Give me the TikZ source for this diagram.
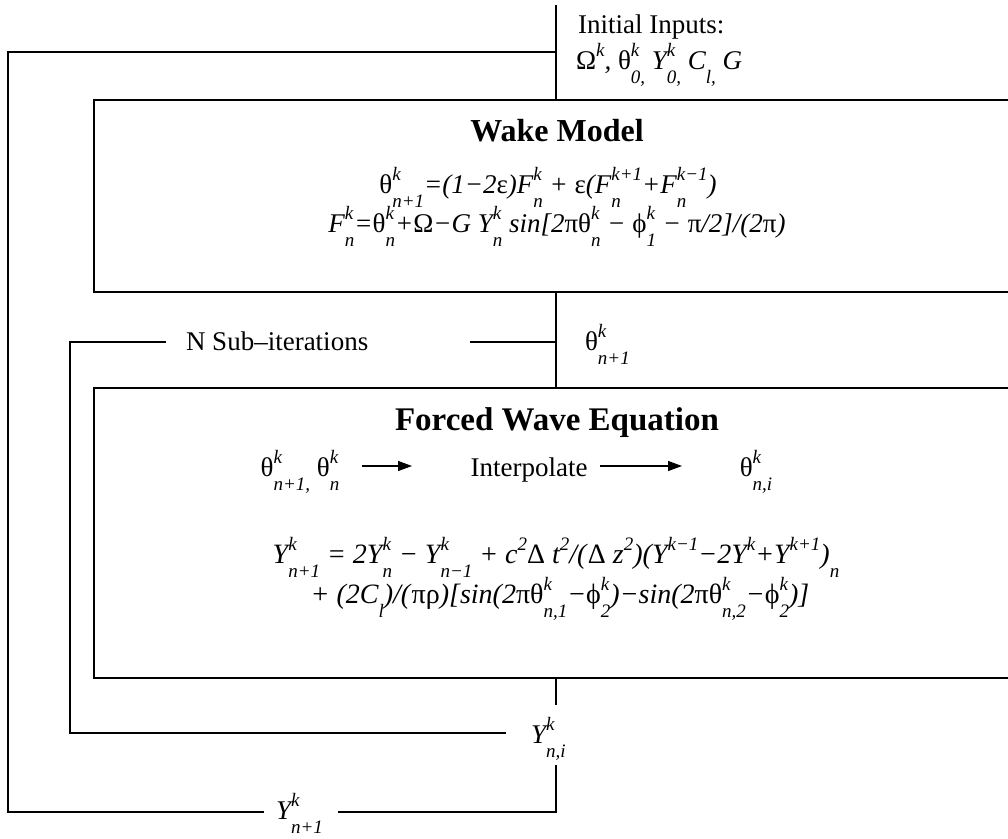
\documentclass[tikz,border=0pt]{standalone}
\usepackage{fontspec}
\setmainfont{Liberation Serif}
\usetikzlibrary{arrows.meta}
\newcommand\scrsz{\fontsize{19}{19}\selectfont}
\newcommand\SUB[2]{\leavevmode\setbox0\hbox{\scrsz\raisebox{13pt}{#1}}\setbox2\hbox{\scrsz\raisebox{-14pt}{#2}}\ifdim\wd0>\wd2\relax\rlap{\box2}\box0\relax\else\rlap{\box0}\box2\relax\fi}
\newcommand\SP[1]{\raisebox{13pt}{\scrsz #1}}
\newcommand\SB[1]{\raisebox{-14pt}{\scrsz #1}}
\newcommand\gth{\textup{θ}}
\newcommand\gep{\textup{ε}}
\newcommand\gom{\textup{Ω}}
\newcommand\gpi{\textup{π}}
\newcommand\gph{\textup{ϕ}}
\newcommand\grh{\textup{ρ}}
\newcommand\gde{\textup{Δ}}
\begin{document}
\begin{tikzpicture}[x=1pt,y=-1pt,
  every node/.style={inner sep=0pt,outer sep=0pt,font=\fontsize{27}{32}\selectfont},
  ln/.style={line width=1.2pt,line join=miter},
  blk/.style={draw,line width=1.2pt,rectangle},
  ttl/.style={font=\fontsize{32}{38}\selectfont\bfseries,anchor=base},
  eq/.style={font=\fontsize{27}{32}\selectfont\itshape,anchor=base},
  arr/.style={line width=1.2pt,-{Triangle[length=14pt,width=10pt]}}]
\useasboundingbox (0,0) rectangle (1008,838);
% boxes
\node[blk,minimum width=926pt,minimum height=192pt] (wake) at (557,196) {};
\node[blk,minimum width=926pt,minimum height=290pt] (fwe) at (557,533) {};
% texts
\node[anchor=base west] (init1) at (578,33) {Initial Inputs:};
\node[anchor=base west,font=\fontsize{27}{32}\selectfont\itshape] (init2) at (576,69) {\gom\SP{k}, \gth\SUB{k}{0,} Y\SUB{k}{0,} C\SB{l,} G};
\node[ttl] (wtitle) at (557,141) {Wake Model};
\node[eq] (weq1) at (548,193) {\gth\SUB{k}{n+1}=(1−2\gep)F\SUB{k}{n} + \gep(F\SUB{k+1}{n}+F\SUB{k−1}{n})};
\node[eq] (weq2) at (557,232) {F\SUB{k}{n}=\gth\SUB{k}{n}+\gom−G Y\SUB{k}{n} sin[2\gpi\gth\SUB{k}{n} − \gph\SUB{k}{1} − \gpi/2]/(2\gpi)};
\node[anchor=base west] (subit) at (186,350) {N Sub–iterations};
\node[eq,anchor=base west] (thn1) at (585,350) {\gth\SUB{k}{n+1}};
\node[ttl,font=\fontsize{33}{38}\selectfont\bfseries] (ftitle) at (557,430) {Forced Wave Equation};
\node[eq] (thpair) at (300,476) {\gth\SUB{k}{n+1,} \gth\SUB{k}{n}};
\node[anchor=base] (interp) at (529,476) {Interpolate};
\node[eq] (thni) at (756,476) {\gth\SUB{k}{n,i}};
\node[eq,font=\fontsize{28}{32}\selectfont\itshape] (yeq1) at (556,563) {Y\SUB{k}{n+1} = 2Y\SUB{k}{n} − Y\SUB{k}{n−1} + c\SP{2}\gde\ t\SP{2}/(\gde\ z\SP{2})(Y\SP{k−1}−2Y\SP{k}+Y\SP{k+1})\SB{n}};
\node[eq,font=\fontsize{28}{32}\selectfont\itshape] (yeq2) at (560,603) {+ (2C\SB{l})/(\gpi\grh)[sin(2\gpi\gth\SUB{k}{n,1}−\gph\SUB{k}{2})−sin(2\gpi\gth\SUB{k}{n,2}−\gph\SUB{k}{2})]};
\node[eq,anchor=base west] (yni) at (531,743) {Y\SUB{k}{n,i}};
\node[eq,anchor=base west] (yn1) at (276,819) {Y\SUB{k}{n+1}};
% coordinates
\coordinate (top) at (556,5);
\coordinate (tj) at (556,52);
\coordinate (ol) at (8,52);
\coordinate (obl) at (8,812);
\coordinate (ob1) at (264,812);
\coordinate (ob2) at (338,812);
\coordinate (obr) at (556,812);
\coordinate (vb) at (556,765);
\coordinate (va) at (556,705);
\coordinate (yl) at (506,733);
\coordinate (il) at (70,733);
\coordinate (itl) at (70,342);
\coordinate (s1) at (166,342);
\coordinate (s2) at (470,342);
\coordinate (sj) at (556,342);
\coordinate (a1s) at (362,466);
\coordinate (a1e) at (412,466);
\coordinate (a2s) at (600,466);
\coordinate (a2e) at (682,466);
% connectors
\draw[ln] (top) -- (wake.north -| top);
\draw[ln] (tj) -- (ol) -- (obl) -- (ob1);
\draw[ln] (ob2) -- (obr) -- (vb);
\draw[ln] (wake.south -| sj) -- (fwe.north -| sj);
\draw[ln] (s2) -- (sj);
\draw[ln] (s1) -- (itl) -- (il) -- (yl);
\draw[ln] (fwe.south -| sj) -- (va);
\draw[arr] (a1s) -- (a1e);
\draw[arr] (a2s) -- (a2e);
\end{tikzpicture}
\end{document}
